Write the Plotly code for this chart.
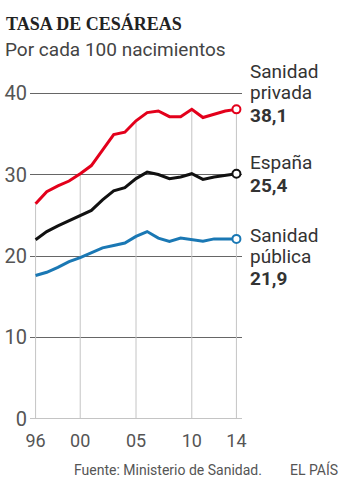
import plotly.graph_objects as go

years = list(range(1996, 2015))
privada = [26.4, 27.9, 28.6, 29.2, 30.1, 31.1, 33.0, 34.9, 35.2, 36.6,
           37.6, 37.8, 37.1, 37.1, 38.0, 37.0, 37.4, 37.8, 38.0]
espana = [22.0, 23.0, 23.7, 24.3, 24.9, 25.6, 26.9, 28.0, 28.4, 29.5,
          30.3, 30.0, 29.5, 29.7, 30.1, 29.4, 29.7, 29.9, 30.1]
publica = [17.6, 18.0, 18.6, 19.3, 19.8, 20.4, 21.0, 21.3, 21.6, 22.4,
           23.0, 22.2, 21.8, 22.2, 22.0, 21.8, 22.1, 22.1, 22.1]

x_tickvals = [1996, 2000, 2005, 2010, 2014]
x_ticktext = ["96", "00", "05", "10", "14"]
y_tickvals = [0, 10, 20, 30, 40]
y_ticktext = ["0", "10", "20", "30", "40"]

series_names = ["Sanidad privada", "España", "Sanidad pública"]
series_values = [privada, espana, publica]
series_colors = ["#e3001b", "#111111", "#1a78b4"]
label_lines = [["Sanidad", "privada", "<b>38,1</b>"],
               ["España", "<b>25,4</b>"],
               ["Sanidad", "pública", "<b>21,9</b>"]]

W_PX, H_PX = 352, 485
X_RANGE = [1995.5, 2014.5]
Y_RANGE = [-0.5, 40.5]
X0_PX, X1_PX = 35.5, 236.7
Y0_PX, Y40_PX = 419.0, 93.0
ppx = (X1_PX - X0_PX) / 18.0
ppy = (Y0_PX - Y40_PX) / 40.0
L = X0_PX - (1996 - X_RANGE[0]) * ppx
R = X1_PX + (X_RANGE[1] - 2014) * ppx
T = Y40_PX - (Y_RANGE[1] - 40) * ppy
B = Y0_PX + (0 - Y_RANGE[0]) * ppy
PW, PH = R - L, B - T


def fx(px):
    return (px - L) / PW


def fy(py):
    return (B - py) / PH


fig = go.Figure()

dx, dy = [], []
for xv in x_tickvals:
    i = years.index(xv)
    dx += [xv, xv, None]
    dy += [0, privada[i], None]
fig.add_trace(go.Scatter(x=dx, y=dy, mode="lines",
                         line=dict(color="#c4c4c4", width=1),
                         hoverinfo="skip", showlegend=False))

for name, vals, col in zip(series_names, series_values, series_colors):
    fig.add_trace(go.Scatter(x=years, y=vals, mode="lines", name=name,
                             line=dict(color=col, width=3),
                             showlegend=False))
    fig.add_trace(go.Scatter(x=[years[-1]], y=[vals[-1]], mode="markers",
                             marker=dict(size=8, color="white",
                                         line=dict(color=col, width=2)),
                             cliponaxis=False, showlegend=False,
                             hoverinfo="skip"))

annotations = []
annotations.append(dict(text="<b>TASA DE CESÁREAS</b>", x=fx(4), y=fy(23),
                        xref="paper", yref="paper", xanchor="left",
                        yanchor="middle", showarrow=False,
                        font=dict(family="Liberation Serif", size=18,
                                  color="#222")))
annotations.append(dict(text="Por cada 100 nacimientos", x=fx(3), y=fy(49),
                        xref="paper", yref="paper", xanchor="left",
                        yanchor="middle", showarrow=False,
                        font=dict(family="Roboto", size=19, color="#444")))

label_centres = [[71.7, 92.4, 115.0], [162.4, 185.1], [235.1, 256.4, 278.4]]
for lines, centres in zip(label_lines, label_centres):
    for txt, cy in zip(lines, centres):
        annotations.append(dict(text=txt, x=fx(248), y=fy(cy),
                                xref="paper", yref="paper", xanchor="left",
                                yanchor="middle", showarrow=False,
                                font=dict(family="Roboto", size=19,
                                          color="#333")))

annotations.append(dict(text="Fuente: Ministerio de Sanidad.", x=fx(72),
                        y=fy(470), xref="paper", yref="paper",
                        xanchor="left", yanchor="middle", showarrow=False,
                        font=dict(family="Roboto", size=14, color="#555")))
annotations.append(dict(text="EL PAÍS", x=fx(288), y=fy(470),
                        xref="paper", yref="paper", xanchor="left",
                        yanchor="middle", showarrow=False,
                        font=dict(family="Roboto", size=14, color="#555")))

fig.update_layout(
    width=W_PX, height=H_PX,
    margin=dict(l=L, r=W_PX - R, t=T, b=H_PX - B, pad=0, autoexpand=False),
    paper_bgcolor="white", plot_bgcolor="white",
    annotations=annotations,
    xaxis=dict(range=X_RANGE, tickvals=x_tickvals, ticktext=x_ticktext,
               showgrid=False, zeroline=False, showline=False,
               ticks="", automargin=False, ticklabelstandoff=5,
               tickfont=dict(family="Roboto", size=18, color="#555"),
               fixedrange=True),
    yaxis=dict(range=Y_RANGE, tickvals=y_tickvals, ticktext=y_ticktext,
               showgrid=True, gridcolor="#666", gridwidth=1,
               zeroline=True, zerolinecolor="#c4c4c4", zerolinewidth=1,
               showline=False, ticks="", automargin=False,
               ticklabelstandoff=2,
               tickfont=dict(family="Roboto", size=20, color="#555"),
               fixedrange=True),
)

fig.write_html("out.html")
